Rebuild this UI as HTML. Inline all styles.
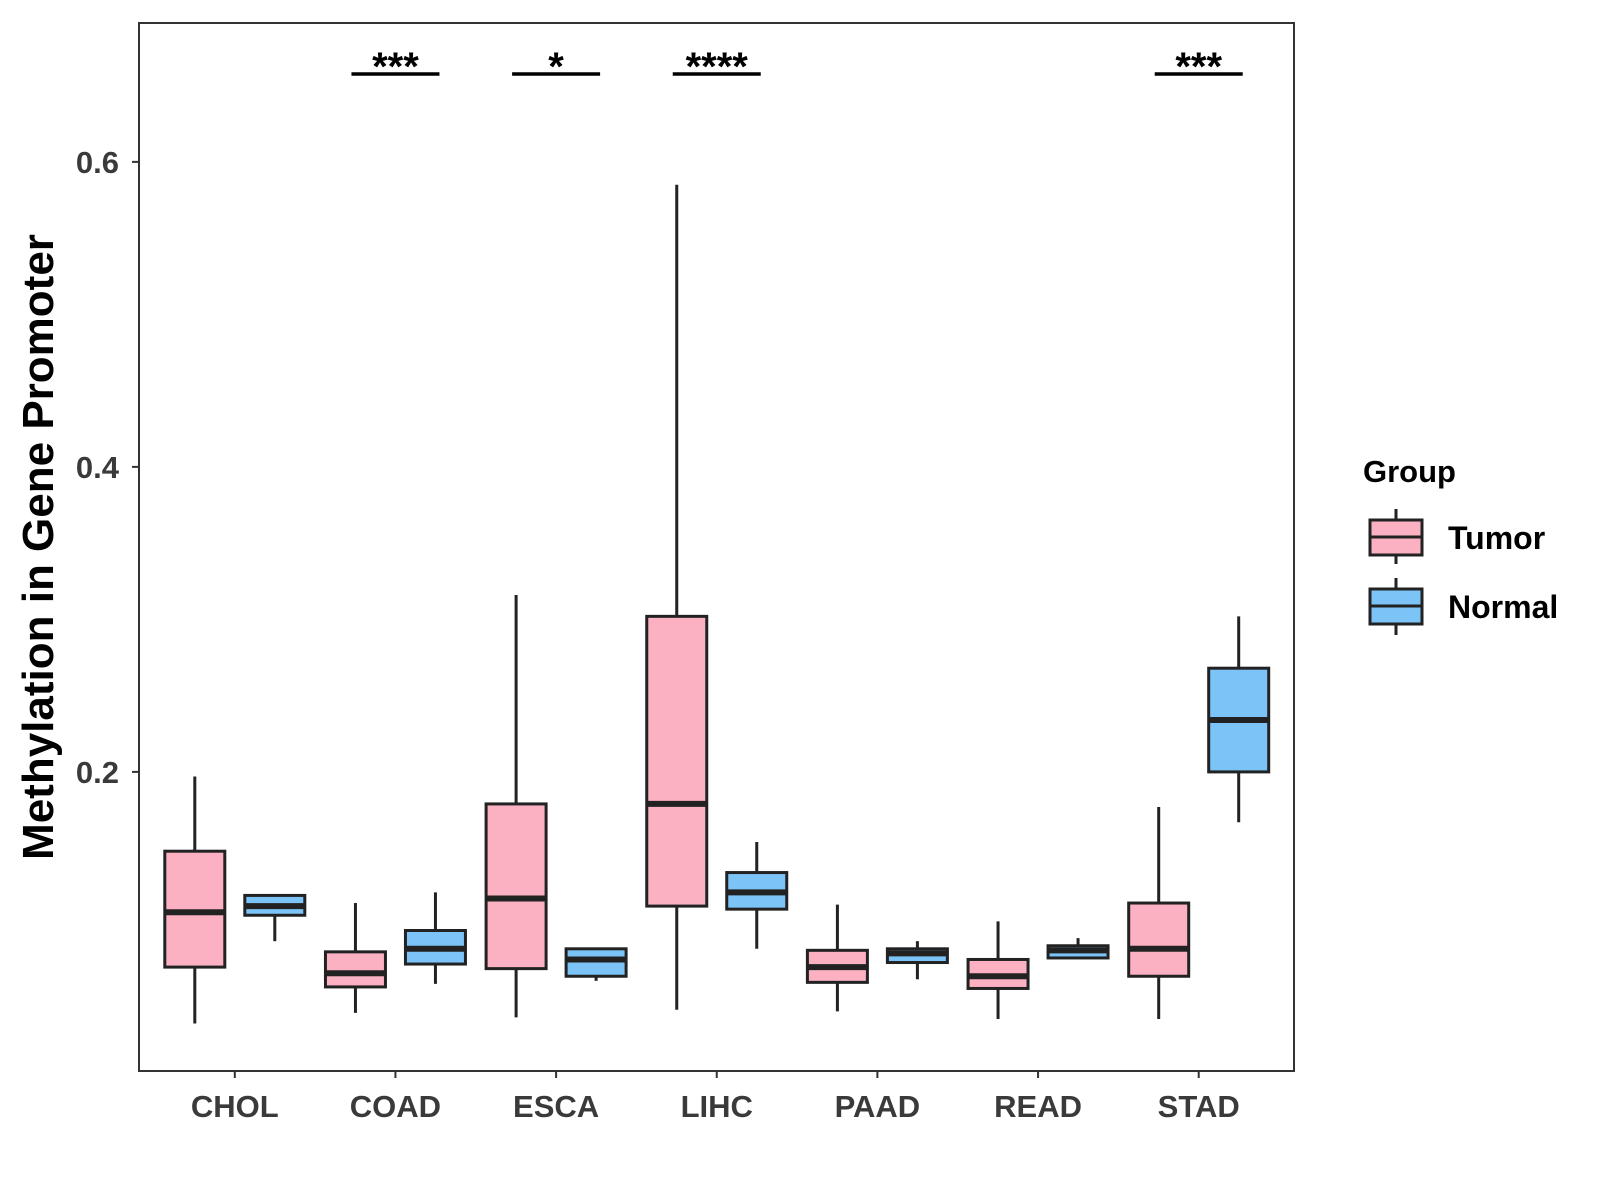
<!DOCTYPE html>
<html><head><meta charset="utf-8"><style>
html,body{margin:0;padding:0;background:#fff;}
svg{display:block;font-family:"Liberation Sans",Arial,sans-serif;}
</style></head><body>
<svg id="chart" width="1600" height="1200" viewBox="0 0 1600 1200">
<rect x="139" y="23" width="1155" height="1048" fill="#fff" stroke="#333" stroke-width="2"/>
<g id="marks"></g>
<text x="0" y="0" transform="translate(53,547) rotate(-90)" text-anchor="middle" font-size="44" font-weight="bold" fill="#000">Methylation in Gene Promoter</text>
<g>
<text x="1363" y="482" font-size="31" font-weight="bold" fill="#000">Group</text>
<g>
<line x1="1396" y1="509" x2="1396" y2="564" stroke="#222" stroke-width="3"/>
<rect x="1370" y="520" width="52" height="35" fill="#FBB1C2" stroke="#222" stroke-width="3"/>
<line x1="1370" y1="537" x2="1422" y2="537" stroke="#222" stroke-width="3"/>
<text x="1448" y="549" font-size="32" font-weight="bold" fill="#000">Tumor</text>
</g>
<g>
<line x1="1396" y1="578" x2="1396" y2="635" stroke="#222" stroke-width="3"/>
<rect x="1370" y="589" width="52" height="35" fill="#7CC4F8" stroke="#222" stroke-width="3"/>
<line x1="1370" y1="606" x2="1422" y2="606" stroke="#222" stroke-width="3"/>
<text x="1448" y="618" font-size="32" font-weight="bold" fill="#000">Normal</text>
</g>
</g>
</svg>
<script>
const categories = ["CHOL","COAD","ESCA","LIHC","PAAD","READ","STAD"];
// [low, q1, median, q3, high]
const tumorStats = [
 [0.035,0.072,0.108,0.148,0.197],
 [0.042,0.059,0.068,0.082,0.114],
 [0.039,0.071,0.117,0.179,0.316],
 [0.044,0.112,0.179,0.302,0.585],
 [0.043,0.062,0.072,0.083,0.113],
 [0.038,0.058,0.066,0.077,0.102],
 [0.038,0.066,0.084,0.114,0.177]];
const normalStats = [
 [0.089,0.106,0.112,0.119,0.119],
 [0.061,0.074,0.084,0.096,0.121],
 [0.063,0.066,0.077,0.084,0.084],
 [0.084,0.110,0.121,0.134,0.154],
 [0.064,0.075,0.081,0.084,0.089],
 [0.078,0.078,0.083,0.086,0.091],
 [0.167,0.200,0.234,0.268,0.302]];
const yTicks = [0.2,0.4,0.6];
const yTickLabels = ["0.2","0.4","0.6"];
const sigCats = ["COAD","ESCA","LIHC","STAD"];
const sigLabels = ["***","*","****","***"];

const NS="http://www.w3.org/2000/svg";
const g=document.getElementById('marks');
function y(v){return 771.9-(v-0.2)*1525;}
function x(c){return 234.8+categories.indexOf(c)*160.65;}
function mk(t,a){const e=document.createElementNS(NS,t);for(const k in a)e.setAttribute(k,a[k]);g.appendChild(e);return e;}

yTicks.forEach((t,i)=>{
 const l=mk('line',{x1:132,x2:139,y1:y(t),y2:y(t),stroke:'#333','stroke-width':2});
 
 
 const tx=mk('text',{x:119,y:y(t)+11,'text-anchor':'end','font-size':31,'font-weight':'bold',fill:'#3a3a3a'});
 tx.textContent=yTickLabels[i];
 
 
});
categories.forEach(c=>{
 const cx=x(c);
 const l=mk('line',{x1:cx,x2:cx,y1:1071,y2:1078,stroke:'#333','stroke-width':2});
 
 
 const tx=mk('text',{x:cx,y:1117,'text-anchor':'middle','font-size':31,'font-weight':'bold',fill:'#3a3a3a'});
 tx.textContent=c;
 
 
});
function box(c,s,off,fill,nm){
 const cx=x(c)+off,w=60;
 const grp=document.createElementNS(NS,'g');g.appendChild(grp);
 
 
 const add=(t,a)=>{const e=document.createElementNS(NS,t);for(const k in a)e.setAttribute(k,a[k]);grp.appendChild(e);};
 add('line',{x1:cx,x2:cx,y1:y(s[0]),y2:y(s[4]),stroke:'#222','stroke-width':3});
 add('rect',{x:cx-w/2,y:y(s[3]),width:w,height:y(s[1])-y(s[3]),fill:fill,stroke:'#222','stroke-width':3});
 add('line',{x1:cx-w/2,x2:cx+w/2,y1:y(s[2]),y2:y(s[2]),stroke:'#222','stroke-width':6});
}
categories.forEach((c,i)=>{
 box(c,tumorStats[i],-40,'#FBB1C2','box-tumor-'+c.toLowerCase());
 box(c,normalStats[i],40,'#7CC4F8','box-normal-'+c.toLowerCase());
});
sigCats.forEach((c,i)=>{
 const cx=x(c);
 const l=mk('line',{x1:cx-44,x2:cx+44,y1:74,y2:74,stroke:'#000','stroke-width':3.5});
 
 
 const tx=mk('text',{x:cx,y:80,'text-anchor':'middle','font-size':40,'font-weight':'bold',fill:'#000'});
 tx.textContent=sigLabels[i];
 
 
});
</script>
</body></html>
